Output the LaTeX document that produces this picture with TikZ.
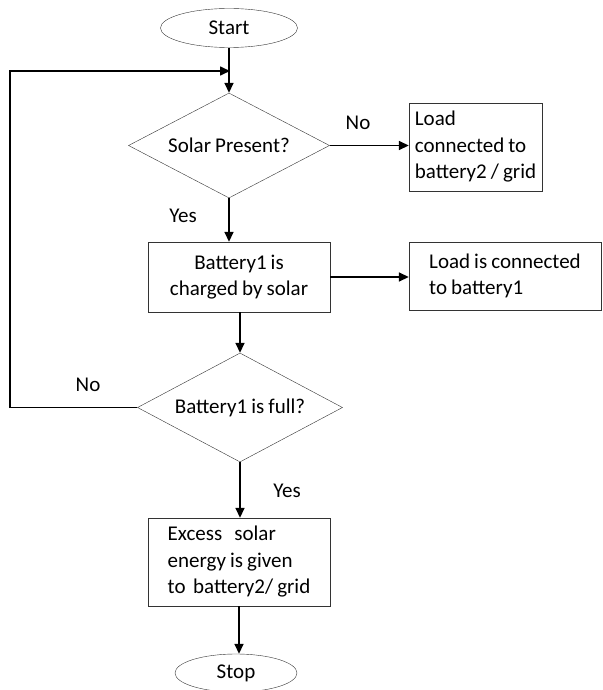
\documentclass[tikz,border=0pt]{standalone}
\usepackage{fontspec}
\setmainfont{Carlito}[WordSpace=0.85]
\usetikzlibrary{shapes.geometric,arrows.meta}

\begin{document}
\begin{tikzpicture}[x=1pt,y=-1pt,
  every node/.style={font=\fontsize{21}{26.5}\selectfont},
  term/.style={draw=black!80,ellipse,inner sep=0pt},
  test/.style={draw=black!80,diamond,shape aspect=2,inner sep=0pt},
  proc/.style={draw=black!80,rectangle,inner sep=0pt},
  flow/.style={line width=1.6pt,-{Triangle[length=10pt,width=9pt]}}]
\useasboundingbox (0,0) rectangle (602,690);
\node[term][minimum width=137pt,minimum height=39pt] (start) at (229,28) {Start};
\node[test][minimum width=201pt,minimum height=105pt] (solar) at (229,145.5) {Solar Present?};
\node[proc][minimum width=133pt,minimum height=88pt,align=left] (load2) at (475.5,147) {Load\\connected to\\battery2 / grid};
\node[proc][minimum width=182pt,minimum height=70pt,align=center] (charge) at (239,277) {Battery1 is\\charged by solar};
\node[proc][minimum width=192pt,minimum height=68pt,align=left] (load1) at (505,276) {Load is connected\\to battery1};
\node[test][minimum width=205pt,minimum height=109pt] (full) at (240,407.5) {Battery1 is full?};
\node[proc][minimum width=182pt,minimum height=88pt,align=left] (excess) at (239,562) {Excess\ \ \ solar\\energy is given\\to\ \,battery2/ grid};
\node[term][minimum width=122pt,minimum height=38pt] (stop) at (236,673) {Stop};
% branch labels
\node (no1) at (358,123) {No};
\node (yes1) at (183,216) {Yes};
\node (no2) at (88,385) {No};
\node (yes2) at (287,491) {Yes};
% connectors
\coordinate (corner) at (10,71);
\coordinate (merge) at (230,71);
\draw[flow] (start.south) -- (solar.north);
\draw[flow] (full.west) -| (corner) -- (merge);
\draw[flow] (solar.east) -- (solar.east -| load2.west);
\draw[flow] (solar.south) -- (solar.south |- charge.north);
\draw[flow] (charge.east) -- (charge.east -| load1.west);
\draw[flow] (full.north |- charge.south) -- (full.north);
\draw[flow] (full.south) -- (full.south |- excess.north);
\draw[flow] (excess.south) -- (excess.south |- stop.north);
\end{tikzpicture}
\end{document}
